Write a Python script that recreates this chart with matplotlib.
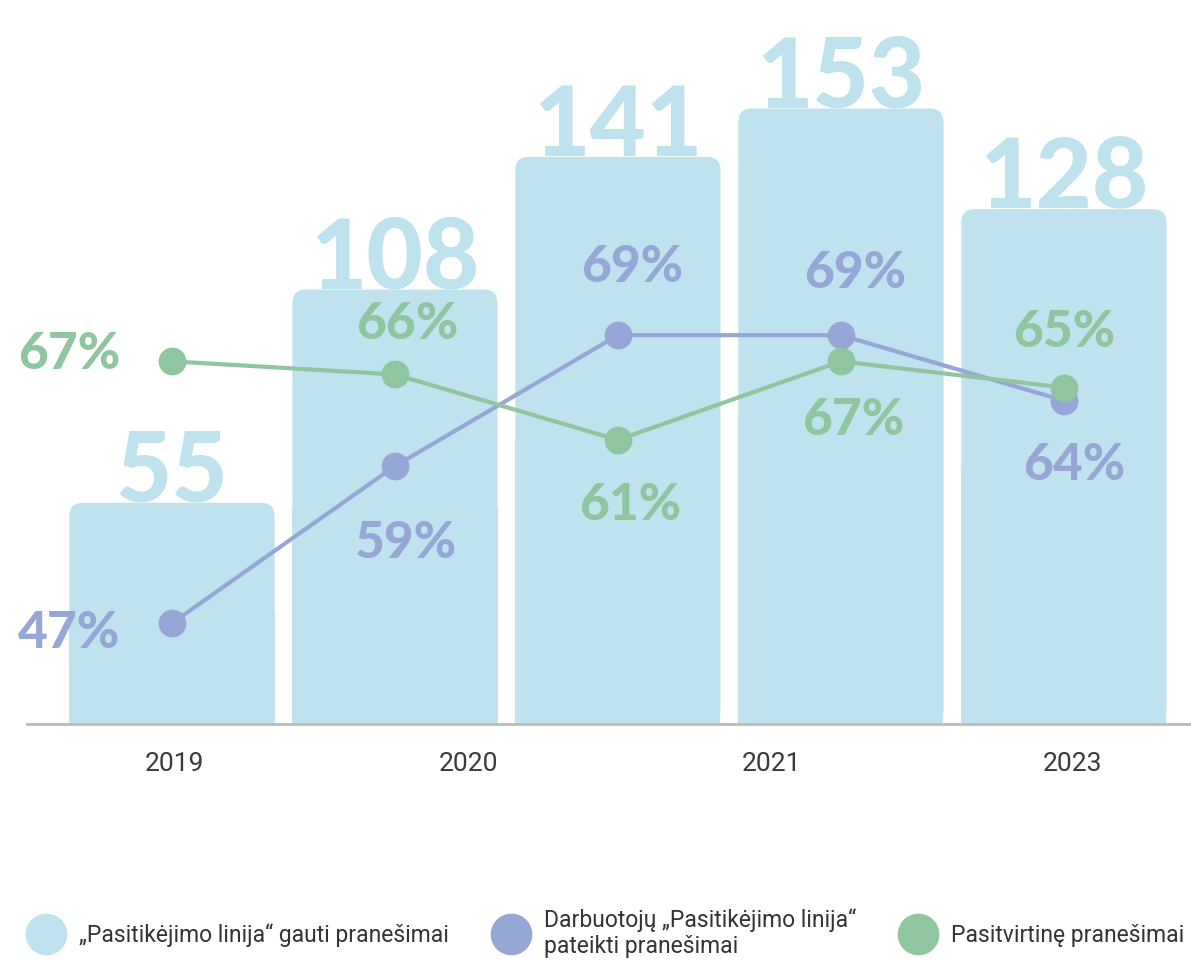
import matplotlib.pyplot as plt
from matplotlib.patches import FancyBboxPatch, Rectangle
from matplotlib.lines import Line2D


# reports received per period
bar_values = [55, 108, 141, 153, 128]

# shares in percent
employee_share = [47, 59, 69, 69, 64]
confirmed_share = [67, 66, 61, 67, 65]

year_labels = ["2019", "2020", "2021", "2023"]

series_names = [
    "„Pasitikėjimo linija“ gauti pranešimai",
    "Darbuotojų „Pasitikėjimo linija“\npateikti pranešimai",
    "Pasitvirtinę pranešimai",
]

BAR_COLOR = "#bee2ee"
PURPLE = "#97a7d5"
GREEN = "#8fc59f"
NUM_FONT = "Lato"

# where the year labels sit along the x axis (in bar units)
year_pos = [0.01, 1.33, 2.69, 4.04]

# label offsets from each point, in pixels (dx, dy; dy positive = up)
employee_offsets = [(-103, -10), (10, -77), (14, 68), (14, 62), (10, -65)]
confirmed_offsets = [(-103, 7), (12, 50), (12, -66), (12, -59), (0, 55)]


fig = plt.figure(figsize=(11.91, 9.6), dpi=100)
ax = fig.add_axes([27 / 1191, 236 / 960, 1 - 27 / 1191, 724 / 960])

x = list(range(len(bar_values)))
bars = ax.bar(x, bar_values, width=0.92, color=BAR_COLOR)
ax.set_xlim(-0.65, 4.57)
ax.set_ylim(0, 180)

# rounded tops: swap each bar for a rounded box plus a square bottom half
radius = 0.06
aspect = 223 / 4.02
for rect in bars:
    x0, w, h = rect.get_x(), rect.get_width(), rect.get_height()
    rect.set_visible(False)
    ax.add_patch(FancyBboxPatch((x0, 0), w, h,
                                boxstyle=f"round,pad=0,rounding_size={radius}",
                                mutation_aspect=aspect, fc=BAR_COLOR, ec="none"))
    ax.add_patch(Rectangle((x0, 0), w, h / 2, fc=BAR_COLOR, ec="none"))
    ax.text(x0 + w / 2, h + 0.3, str(int(h)), ha="center", va="baseline",
            fontsize=70, fontweight="black", family=NUM_FONT, color=BAR_COLOR)

for side in ["top", "right", "left"]:
    ax.spines[side].set_visible(False)
ax.spines["bottom"].set_color("#bbbbbb")
ax.spines["bottom"].set_linewidth(2)
ax.set_yticks([])
ax.set_xticks(year_pos)
ax.set_xticklabels(year_labels, fontsize=19, color="#3a3a3a", family="Roboto")
ax.tick_params(axis="x", length=0, pad=20)

# percentage lines on their own scale
ax2 = ax.twinx()
ax2.set_ylim(39.3, 94.6)
ax2.set_yticks([])
for side in ["top", "right", "left", "bottom"]:
    ax2.spines[side].set_visible(False)

for values, color, offsets in [(employee_share, PURPLE, employee_offsets),
                               (confirmed_share, GREEN, confirmed_offsets)]:
    ax2.plot(x, values, color=color, linewidth=3, marker="o", markersize=19,
             solid_capstyle="round")
    for xi, v, (dx, dy) in zip(x, values, offsets):
        ax2.annotate(f"{v}%", (xi, v), xytext=(dx, dy), textcoords="offset pixels",
                     ha="center", va="center", fontsize=37, fontweight="black",
                     family=NUM_FONT, color=color)

handles = [Line2D([], [], linestyle="none", marker="o", markersize=29, color=c)
           for c in [BAR_COLOR, PURPLE, GREEN]]
fig.legend(handles, series_names, loc="center left", bbox_to_anchor=(30 / 1191, 0.028),
           ncol=3, frameon=False, borderpad=0, borderaxespad=0,
           handlelength=1.4, handletextpad=0.75, columnspacing=2.0,
           prop={"family": "Roboto", "size": 16.5}, labelcolor="#333333")

fig.savefig("out.png", dpi=100)
